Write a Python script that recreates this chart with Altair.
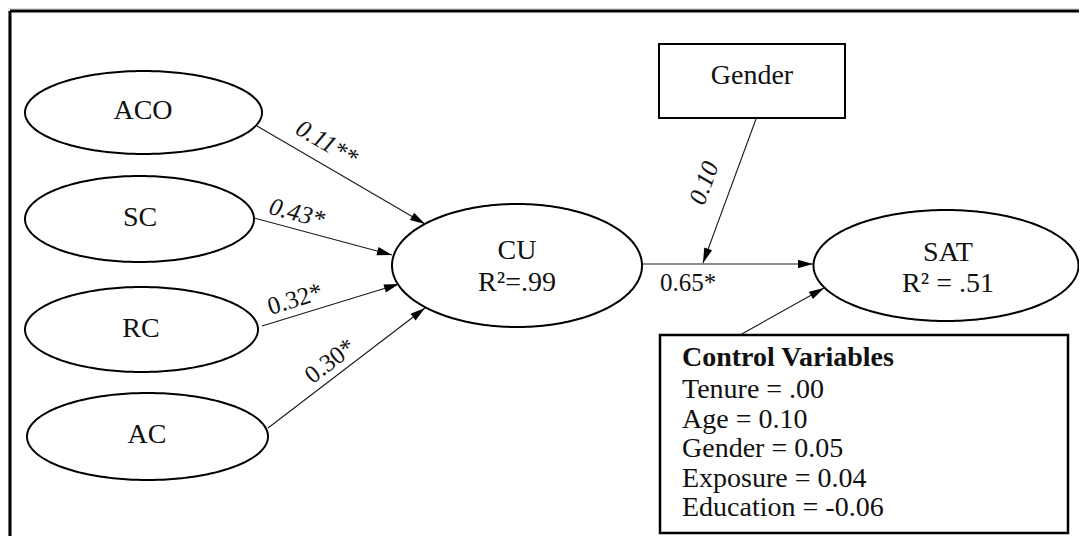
import altair as alt
import numpy as np
import pandas as pd

FONT = "Liberation Serif"

# ---- ellipse (latent construct) nodes ----
ell_names = ["ACO", "SC", "RC", "AC", "CU", "SAT"]
ell_cx = [143.5, 139.5, 141.5, 147.5, 517.0, 946.0]
ell_cy = [112.5, 219.0, 329.5, 436.5, 265.5, 265.5]
ell_rx = [118.5, 114.5, 116.5, 120.5, 125.0, 132.5]
ell_ry = [41.5, 43.0, 42.5, 43.5, 61.5, 55.5]

# ---- node text ----
node_text = ["ACO", "SC", "RC", "AC", "CU", "R\u00b2=.99", "SAT", "R\u00b2 = .51", "Gender"]
node_tx = [143, 140, 141, 147, 517, 517, 948, 948, 752]
node_ty = [111, 218, 329, 435, 251, 283, 253, 284, 76]

# ---- rectangular nodes ----
box_names = ["Gender", "Control Variables"]
box_x1 = [659, 660]
box_x2 = [845, 1068]
box_y1 = [44, 335]
box_y2 = [118, 533]
box_sw = [2, 2.5]

# ---- control variables ----
ctrl_title = "Control Variables"
ctrl_names = ["Tenure", "Age", "Gender", "Exposure", "Education"]
ctrl_values = [".00", "0.10", "0.05", "0.04", "-0.06"]
ctrl_x = 682
ctrl_y = [358, 390, 420, 449, 479, 508]

# ---- paths (arrows) ----
path_from = ["ACO", "SC", "RC", "AC", "CU", "Gender", "Control"]
path_to = ["CU", "CU", "CU", "CU", "SAT", "CU-SAT", "SAT"]
path_sx = [257, 254, 262, 268, 642, 756, 740]
path_sy = [126, 218, 326, 428, 264, 119, 335]
path_ex = [425, 392, 399, 425, 813, 703, 824]
path_ey = [224, 255, 284, 308, 264, 263, 288]

# ---- path coefficients ----
coef_text = ["0.11**", "0.43*", "0.32*", "0.30*", "0.65*", "0.10"]
coef_path = [0, 1, 2, 3, None, 5]
coef_x = [327, 297, 295, 330, 688, 704]
coef_y = [143, 213, 299, 361, 283, 183]
coef_italic = [True, True, False, False, False, True]

# ---------------------------------------------------------------
xs = alt.Scale(domain=[8, 1079], nice=False, zero=False)
ys = alt.Scale(domain=[8, 536], nice=False, zero=False, reverse=True)


def X(f):
    return alt.X(f, type="quantitative", scale=xs, axis=None)


def Y(f):
    return alt.Y(f, type="quantitative", scale=ys, axis=None)


# ellipse outlines
theta = np.linspace(0, 2 * np.pi, 241)
rows = []
for n, cx, cy, rx, ry in zip(ell_names, ell_cx, ell_cy, ell_rx, ell_ry):
    for i, t in enumerate(theta):
        rows.append({"node": n, "i": i, "x": cx + rx * np.cos(t), "y": cy + ry * np.sin(t)})
ell_df = pd.DataFrame(rows)

ellipses = alt.Chart(ell_df).mark_line(color="black", strokeWidth=2).encode(
    x=X("x"), y=Y("y"), detail="node:N", order="i:Q"
)

# boxes
box_df = pd.DataFrame({"name": box_names, "x1": box_x1, "x2": box_x2,
                       "y1": box_y1, "y2": box_y2, "sw": box_sw})
boxes = alt.Chart(box_df).mark_rect(fill="white", stroke="black").encode(
    x=X("x1"), x2="x2", y=Y("y1"), y2="y2",
    strokeWidth=alt.StrokeWidth("sw:Q", scale=None)
)

# outer frame
frame_df = pd.DataFrame({"x1": [10, 10], "x2": [1079, 10], "y1": [11, 11], "y2": [11, 536]})
frame = alt.Chart(frame_df).mark_rule(color="black", strokeWidth=3).encode(
    x=X("x1"), x2="x2", y=Y("y1"), y2="y2"
)

# arrows
p_df = pd.DataFrame({"from": path_from, "to": path_to, "sx": path_sx, "sy": path_sy,
                     "ex": path_ex, "ey": path_ey})
p_df["rot"] = (np.degrees(np.arctan2(p_df.ey - p_df.sy, p_df.ex - p_df.sx)) + 90) % 360
lines = alt.Chart(p_df).mark_rule(color="#1a1a1a", strokeWidth=1.1).encode(
    x=X("sx"), x2="ex", y=Y("sy"), y2="ey"
)
heads = alt.Chart(p_df).mark_point(
    shape="M0,0L0.42,1.5L-0.42,1.5Z", filled=True, color="black", size=400,
    opacity=1, strokeWidth=0
).encode(x=X("ex"), y=Y("ey"), angle=alt.Angle("rot:Q", scale=None))

# coefficient labels
ang = []
for k, pi in enumerate(coef_path):
    if pi is None:
        ang.append(0.0)
    else:
        dx = path_ex[pi] - path_sx[pi]
        dy = path_ey[pi] - path_sy[pi]
        if dx < 0:  # read from bottom to top
            dx, dy = -dx, -dy
        ang.append(float(np.degrees(np.arctan2(dy, dx)) % 360))
c_df = pd.DataFrame({"t": coef_text, "x": coef_x, "y": coef_y, "ang": ang, "it": coef_italic})
coef_it = alt.Chart(c_df[c_df.it]).mark_text(
    font=FONT, fontSize=25, fontStyle="italic", baseline="middle", align="center", color="#111"
).encode(x=X("x"), y=Y("y"), text="t:N", angle=alt.Angle("ang:Q", scale=None))
coef_up = alt.Chart(c_df[~c_df.it]).mark_text(
    font=FONT, fontSize=25, baseline="middle", align="center", color="#111"
).encode(x=X("x"), y=Y("y"), text="t:N", angle=alt.Angle("ang:Q", scale=None))

# node labels
n_df = pd.DataFrame({"t": node_text, "x": node_tx, "y": node_ty})
node_labels = alt.Chart(n_df).mark_text(
    font=FONT, fontSize=28, baseline="middle", align="center", color="#111"
).encode(x=X("x"), y=Y("y"), text="t:N")

# control variables box text
ct_df = pd.DataFrame({"t": [ctrl_title], "x": [ctrl_x], "y": [ctrl_y[0]]})
ctrl_head = alt.Chart(ct_df).mark_text(
    font=FONT, fontSize=28, fontWeight="bold", baseline="middle", align="left", color="#111"
).encode(x=X("x"), y=Y("y"), text="t:N")
cl_df = pd.DataFrame({"t": [f"{n} = {v}" for n, v in zip(ctrl_names, ctrl_values)],
                      "x": [ctrl_x] * len(ctrl_names), "y": ctrl_y[1:]})
ctrl_lines = alt.Chart(cl_df).mark_text(
    font=FONT, fontSize=28, baseline="middle", align="left", color="#111"
).encode(x=X("x"), y=Y("y"), text="t:N")

chart = alt.layer(
    frame, boxes, ellipses, lines, heads, coef_it, coef_up, node_labels, ctrl_head, ctrl_lines
).properties(
    width=1071, height=528, padding=0, autosize=alt.AutoSizeParams(type="none")
).configure_view(stroke=None).configure(background="white")

chart.save("out.html", embed_options={"renderer": "svg", "actions": False})
